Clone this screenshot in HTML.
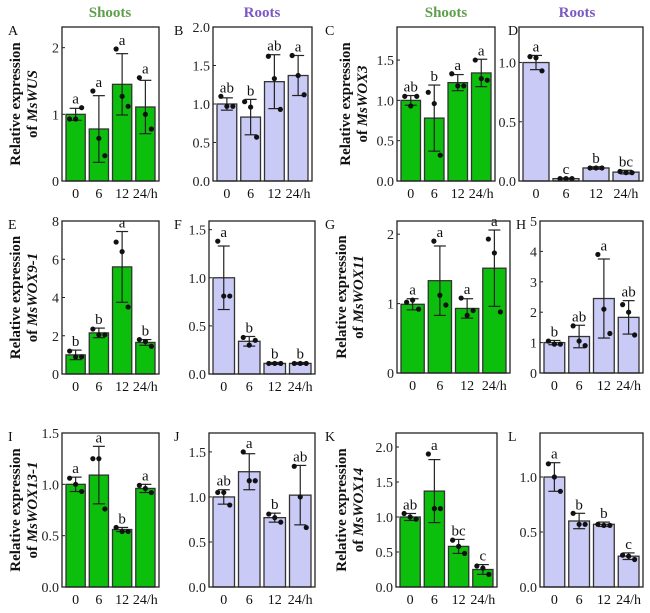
<!DOCTYPE html>
<html><head><meta charset="utf-8">
<style>
body{margin:0;background:#fff;}
svg, svg text, svg tspan{font-family:"Liberation Serif","DejaVu Serif","Times New Roman",serif;}
</style></head>
<body>
<svg id="fig" width="650" height="608" xmlns="http://www.w3.org/2000/svg"></svg>
<script>
const categories=["0","6","12","24/h"];
const meansA=[1,0.78,1.45,1.11], errA=[0.09,0.5,0.46,0.4], ptsA=[[0.93,0.93,1.1],[1.35,0.64,0.38],[1.98,1.27,1.12],[1.55,1.0,0.78]], letA=["a","a","a","a"], ticksA=[0,1,2];
const meansB=[1,0.83,1.29,1.37], errB=[0.08,0.23,0.35,0.26], ptsB=[[1.1,0.97,0.97],[1.03,0.96,0.57],[1.62,1.33,0.93],[1.63,1.37,1.12]], letB=["ab","b","ab","a"], ticksB=[0,0.5,1,1.5,2];
const meansC=[1,0.78,1.22,1.34], errC=[0.06,0.41,0.1,0.17], ptsC=[[1.05,0.93,1.05],[1.1,0.96,0.32],[1.33,1.18,1.18],[1.5,1.27,1.25]], letC=["ab","b","a","a"], ticksC=[0,0.5,1,1.5];
const meansD=[1,0.02,0.11,0.075], errD=[0.06,0.005,0.01,0.015], ptsD=[[1.05,1.04,0.93],[0.02,0.02,0.02],[0.11,0.11,0.11],[0.08,0.07,0.07]], letD=["a","c","b","bc"], ticksD=[0,0.5,1];
const meansE=[1,2.15,5.6,1.65], errE=[0.25,0.25,1.85,0.15], ptsE=[[1.2,0.9,0.9],[2.35,2.05,2.05],[6.9,6.4,3.5],[1.8,1.7,1.45]], letE=["b","b","a","b"], ticksE=[0,2,4,6,8];
const meansF=[1,0.34,0.11,0.11], errF=[0.33,0.05,0.01,0.01], ptsF=[[1.38,0.81,0.81],[0.38,0.3,0.35],[0.11,0.11,0.11],[0.11,0.11,0.11]], letF=["a","b","b","b"], ticksF=[0,0.5,1,1.5];
const meansG=[0.99,1.33,0.93,1.51], errG=[0.08,0.5,0.14,0.55], ptsG=[[1.02,1.05,0.92],[1.9,1.12,0.98],[1.08,0.83,0.9],[1.93,1.73,0.88]], letG=["a","a","a","a"], ticksG=[0,1,2];
const meansH=[1,1.2,2.45,1.83], errH=[0.07,0.37,1.3,0.55], ptsH=[[1.05,0.95,0.95],[1.55,1.05,0.9],[3.9,2.1,1.3],[2.25,2.0,1.25]], letH=["b","ab","a","ab"], ticksH=[0,1,2,3,4,5];
const meansI=[1,1.09,0.56,0.96], errI=[0.07,0.28,0.02,0.04], ptsI=[[1.06,1.0,0.93],[1.25,1.25,0.76],[0.58,0.54,0.54],[0.99,0.96,0.92]], letI=["a","a","b","a"], ticksI=[0,0.5,1,1.5];
const meansJ=[1,1.28,0.77,1.02], errJ=[0.08,0.2,0.05,0.33], ptsJ=[[1.05,1.05,0.91],[1.5,1.18,1.18],[0.81,0.77,0.72],[1.34,1.0,0.66]], letJ=["ab","a","b","ab"], ticksJ=[0,0.5,1,1.5];
const meansK=[1,1.37,0.58,0.25], errK=[0.05,0.45,0.1,0.07], ptsK=[[1.05,1.0,0.97],[1.9,1.12,1.12],[0.67,0.58,0.48],[0.3,0.27,0.18]], letK=["ab","a","bc","c"], ticksK=[0,0.5,1,1.5,2];
const meansL=[1,0.6,0.57,0.28], errL=[0.13,0.07,0.02,0.03], ptsL=[[1.12,1.0,0.87],[0.67,0.57,0.57],[0.57,0.56,0.56],[0.29,0.28,0.25]], letL=["a","b","b","c"], ticksL=[0,0.5,1];

const NS="http://www.w3.org/2000/svg";
const svg=document.getElementById('fig');
function mk(tag,attrs,parent,txt){const e=document.createElementNS(NS,tag);for(const k in attrs)e.setAttribute(k,attrs[k]);if(tag==='text')e.setAttribute('font-family','Liberation Serif, DejaVu Serif, serif');if(txt!==undefined)e.textContent=txt;(parent||svg).appendChild(e);return e;}

function panel(id,box,max,means,err,pts,lets,ticks,dec,color,gene,labelX){
  const [x0,x1,y0,y1]=box;
  const g=mk('g',{});
  
  
  const ys=v=>y1-(v/max)*(y1-y0);
  const slot=(x1-x0-4)/4;
  const xs=i=>x0+2+slot*i+slot/2;
  means.forEach((m,i)=>{
    const bw=slot-4;
    const r=mk('rect',{x:xs(i)-bw/2,y:ys(m),width:bw,height:y1-ys(m),fill:color,stroke:'#333','stroke-width':1.3},g);
    
    
    const cx=xs(i),top=ys(m+err[i]),bot=ys(Math.max(0,m-err[i]));
    mk('line',{x1:cx,x2:cx,y1:top,y2:bot,stroke:'#222','stroke-width':1.2},g);
    mk('line',{x1:cx-6,x2:cx+6,y1:top,y2:top,stroke:'#222','stroke-width':1.2},g);
    mk('line',{x1:cx-6,x2:cx+6,y1:bot,y2:bot,stroke:'#222','stroke-width':1.2},g);
    pts[i].forEach((p,j)=>{mk('circle',{cx:cx+(j-1)*6,cy:ys(p),r:2.6,fill:'#111'},g);});
    const hi=Math.max(m+err[i],...pts[i]);
    const t=mk('text',{x:cx,y:ys(hi)-4,'font-size':15,'text-anchor':'middle',fill:'#111'},g,lets[i]);
    
    
    const xl=mk('text',{x:cx,y:y1+17,'font-size':14,'text-anchor':'middle',fill:'#111'},g,categories[i]);
    
    
  });
  ticks.forEach(t=>{
    const y=ys(t);
    mk('line',{x1:x0,x2:x0+3,y1:y,y2:y,stroke:'#222'},g);
    const tl=mk('text',{x:x0-3,y:y+5,'font-size':14,'text-anchor':'end',fill:'#222'},g,t.toFixed(dec));
    
    
  });
  mk('rect',{x:x0,y:y0,width:x1-x0,height:y1-y0,fill:'none',stroke:'#222','stroke-width':1.3},g);
  const pl=mk('text',{x:labelX,y:y0+8,'font-size':14,fill:'#111'},g,id);
  
  
  if(gene){
    const ax=gene[1], cy=(y0+y1)/2;
    const t=mk('text',{transform:`translate(${ax},${cy}) rotate(-90)`,'font-size':15,'font-weight':'bold','text-anchor':'middle',fill:'#111'},g);
    
    
    mk('tspan',{x:0,y:0},t,'Relative expression');
    mk('tspan',{x:0,y:17},t,'of ');
    mk('tspan',{'font-style':'italic'},t,gene[0]);
  }
}
const GREEN='#0dbf0d', PURP='#cacaf6';
panel('A',[62,159,27,181],2.31,meansA,errA,ptsA,letA,ticksA,0,GREEN,['MsWUS',20],8);
panel('B',[213,312,27,181],2.0,meansB,errB,ptsB,letB,ticksB,1,PURP,null,174);
panel('C',[397,495,27,181],1.91,meansC,errC,ptsC,letC,ticksC,1,GREEN,['MsWOX3',350],325);
panel('D',[519,643,27,181],1.3,meansD,errD,ptsD,letD,ticksD,1,PURP,null,508);
panel('E',[62,159,221,374],8,meansE,errE,ptsE,letE,ticksE,0,GREEN,['MsWOX9-1',20],8);
panel('F',[209,315,221,374],1.59,meansF,errF,ptsF,letF,ticksF,1,PURP,null,174);
panel('G',[397,510,221,373],2.19,meansG,errG,ptsG,letG,ticksG,0,GREEN,['MsWOX11',346],325);
panel('H',[540,643,221,373],5,meansH,errH,ptsH,letH,ticksH,0,PURP,null,516);
panel('I',[62,159,433,587],1.5,meansI,errI,ptsI,letI,ticksI,1,GREEN,['MsWOX13-1',20],8);
panel('J',[209,315,433,587],1.71,meansJ,errJ,ptsJ,letJ,ticksJ,1,PURP,null,174);
panel('K',[396,497,433,587],2.2,meansK,errK,ptsK,letK,ticksK,1,GREEN,['MsWOX14',346],325);
panel('L',[540,643,433,587],1.4,meansL,errL,ptsL,letL,ticksL,1,PURP,null,508);
[['Shoots',110,'#5e9e4c'],['Roots',262,'#7b58c4'],['Shoots',446,'#5e9e4c'],['Roots',577,'#7b58c4']].forEach(h=>{
  const t=mk('text',{x:h[1],y:17,'font-size':15,'font-weight':'bold','text-anchor':'middle',fill:h[2]},svg,h[0]);
  
  
});
</script>
</body></html>
